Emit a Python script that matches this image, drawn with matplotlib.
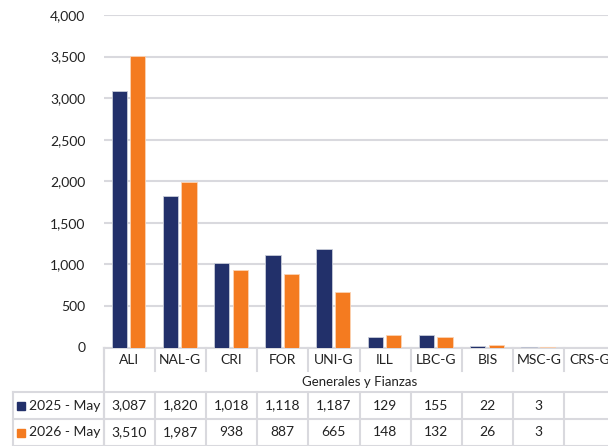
import numpy as np
import matplotlib
matplotlib.use("Agg")
import matplotlib.pyplot as plt
from matplotlib.lines import Line2D
from matplotlib.patches import Rectangle
from matplotlib.transforms import blended_transform_factory

plt.rcParams['font.family'] = ['Lato', 'DejaVu Sans']

categories = ['ALI', 'NAL-G', 'CRI', 'FOR', 'UNI-G', 'ILL', 'LBC-G', 'BIS', 'MSC-G', 'CRS-G']
series_names = ['2025 - May', '2026 - May']
values_2025 = [3087, 1820, 1018, 1118, 1187, 129, 155, 22, 3, 0]
values_2026 = [3510, 1987, 938, 887, 665, 148, 132, 26, 3, 0]
table_2025 = ['3,087', '1,820', '1,018', '1,118', '1,187', '129', '155', '22', '3', '']
table_2026 = ['3,510', '1,987', '938', '887', '665', '148', '132', '26', '3', '']
group_label = 'Generales y Fianzas'
yticks = [0, 500, 1000, 1500, 2000, 2500, 3000, 3500, 4000]

navy = '#22306A'
orange = '#F47B20'
grid_c = '#D9D9DE'

W, H = 608, 446
fig = plt.figure(figsize=(W / 100, H / 100), dpi=100)

# axes in pixel terms (top-left origin), right side runs past the figure
left_px, top_px, bottom_px = 103.5, 15, 347.5
cat_w = 51.2
ax = fig.add_axes([left_px / W, (H - bottom_px) / H,
                   cat_w * len(categories) / W, (bottom_px - top_px) / H])

x = np.arange(len(categories))
bw = 0.30
ax.bar(x - 0.19, values_2025, bw, color=navy, edgecolor='#C8CCD8', linewidth=0.6, zorder=3)
ax.bar(x + 0.17, values_2026, bw, color=orange, edgecolor='#FBD3B4', linewidth=0.6, zorder=3)

ax.set_xlim(-0.5, len(categories) - 0.5)
ax.set_ylim(0, 4000)
ax.set_yticks(yticks)
ax.set_yticklabels([f'{v:,}' for v in yticks], fontsize=10, color='#222222')
ax.tick_params(axis='y', length=0, pad=13)
ax.set_xticks([])
ax.grid(axis='y', color=grid_c, linewidth=1.5, zorder=0)
for s in ['top', 'right', 'left']:
    ax.spines[s].set_visible(False)
ax.spines['bottom'].set_color(grid_c)
ax.spines['bottom'].set_linewidth(1.5)

# table below the axes: x in data units, y in figure fraction
tr = blended_transform_factory(ax.transData, fig.transFigure)


def fy(py):
    return (H - py) / H


def px_line(x0, x1, y0, y1):
    fig.add_artist(Line2D([x0 / W, x1 / W], [fy(y0), fy(y1)], color=grid_c,
                          linewidth=1.5, transform=fig.transFigure))


n = len(categories)
edges = np.arange(n + 1) - 0.5
for e in edges:
    fig.add_artist(Line2D([e, e], [fy(348), fy(371)], color=grid_c, linewidth=1.5, transform=tr))
    fig.add_artist(Line2D([e, e], [fy(392), fy(446)], color=grid_c, linewidth=1.5, transform=tr))
fig.add_artist(Line2D([-0.5, -0.5], [fy(348), fy(446)], color=grid_c, linewidth=1.5, transform=tr))

px_line(12.5, W, 392, 392)
px_line(12.5, W, 419, 419)
px_line(12.5, W, 445.5, 445.5)
px_line(12.5, 12.5, 392, 446)

for i, c in enumerate(categories):
    fig.text(i, fy(360), c, transform=tr, ha='center', va='center', fontsize=10, color='#222222')
    fig.text(i, fy(405.5), table_2025[i], transform=tr, ha='center', va='center', fontsize=10, color='#222222')
    fig.text(i, fy(432.5), table_2026[i], transform=tr, ha='center', va='center', fontsize=10, color='#222222')
fig.text((n - 1) / 2, fy(381.5), group_label, transform=tr, ha='center', va='center', fontsize=9.5, color='#222222')

for yy, name, col in [(405.5, series_names[0], navy), (432.5, series_names[1], orange)]:
    fig.add_artist(Rectangle((17 / W, fy(yy + 4)), 8 / W, 8 / H, color=col, transform=fig.transFigure))
    fig.text(29 / W, fy(yy), name, ha='left', va='center', fontsize=10, color='#222222')

fig.savefig('out.png', dpi=100)
